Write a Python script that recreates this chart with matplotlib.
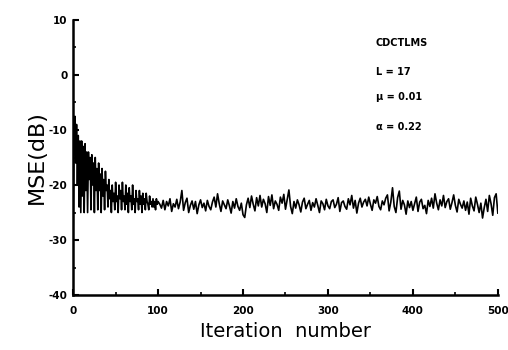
import numpy as np
import matplotlib
matplotlib.use('Agg')
import matplotlib.pyplot as plt
from matplotlib.ticker import MultipleLocator

plt.rcParams['axes.unicode_minus'] = False

# learning curve
# iterations 0..100, one value per iteration
head_mse = [
    -28.0, -12.0, -7.5, -16.0, -9.0, -20.0, -11.0, -24.0, -12.0, -25.0,
    -12.0, -22.0, -13.0, -25.0, -12.5, -21.0, -14.0, -25.0, -14.0, -19.0,
    -15.0, -24.5, -14.5, -20.0, -16.0, -25.0, -15.0, -21.0, -17.0, -24.5,
    -16.0, -21.0, -18.0, -25.0, -17.0, -22.0, -19.0, -24.5, -17.5, -21.0,
    -20.0, -24.0, -19.0, -22.5, -21.0, -25.0, -20.0, -23.0, -21.5, -24.5,
    -19.5, -23.0, -22.0, -25.0, -20.0, -22.5, -21.0, -24.5, -19.5, -23.0,
    -22.0, -24.5, -20.0, -23.5, -21.5, -25.0, -20.5, -23.0, -22.0, -24.5,
    -20.0, -23.5, -22.5, -25.0, -21.0, -23.0, -22.5, -24.5, -21.0, -23.5,
    -22.0, -25.0, -21.5, -23.5, -22.5, -24.5, -21.5, -23.0, -23.5, -24.5,
    -22.0, -23.5, -23.0, -24.0, -22.5, -24.0, -23.0, -24.5, -22.5, -23.5,
    -23.0,
]
# iterations 102..500, every second iteration
tail_mse = [
    -23.5, -24.2, -22.8, -24.5, -23.0, -23.8, -22.5, -24.8, -23.4, -24.0,
    -22.6, -24.3, -23.1, -21.0, -24.6, -23.2, -22.4, -25.0, -23.7, -22.9,
    -24.4, -23.0, -25.2, -23.6, -22.7, -24.1, -23.3, -24.7, -22.8, -23.9,
    -24.5, -23.1, -22.2, -24.0, -21.6, -23.4, -24.8, -22.9, -23.6, -24.3,
    -22.7, -23.8, -25.1, -23.0, -24.2, -22.5, -23.9, -24.6, -23.3, -25.4,
    -25.9, -23.6, -22.4, -24.1, -22.0, -23.5, -24.7, -22.3, -23.8, -21.9,
    -24.0, -22.6, -23.4, -25.0, -22.1, -23.7, -21.8, -24.3, -22.9, -23.5,
    -24.6, -22.2, -23.3, -21.7, -24.4, -22.6, -20.9, -23.9, -25.2, -23.0,
    -24.2, -22.7, -23.6, -24.9, -23.1, -22.4, -24.3, -23.5, -22.8, -24.6,
    -23.2, -24.0, -22.5, -23.7, -25.0, -22.9, -23.4, -24.5, -22.6, -23.8,
    -24.3, -23.0, -22.7, -24.1, -23.5, -22.3, -24.8, -23.2, -22.9, -23.9,
    -24.4, -22.5, -23.6, -21.9, -24.2, -22.8, -25.1, -23.3, -22.4, -24.0,
    -23.1, -22.6, -23.8, -22.2, -23.5, -24.6, -22.7, -23.3, -22.1, -23.9,
    -24.5, -22.9, -23.6, -22.4, -21.8, -24.7, -23.1, -20.5, -23.9, -25.0,
    -22.3, -21.1, -24.4, -22.8, -23.6, -25.3, -22.9, -24.1, -23.0, -24.6,
    -23.4, -22.2, -24.8, -23.1, -22.6, -24.3, -23.7, -25.2, -22.8, -23.9,
    -22.4, -24.2, -21.6, -23.3, -24.5, -22.7, -23.8, -21.9, -24.1, -23.0,
    -22.5, -24.4, -23.2, -21.8, -23.7, -24.9, -22.6, -23.5, -24.2, -22.9,
    -24.6, -23.1, -25.3, -22.4, -23.8, -24.7, -22.2, -23.5, -25.0, -23.3,
    -26.0, -24.1, -22.6, -24.8, -21.9, -23.4, -25.5, -22.3, -21.6, -25.1,
]
head_iter = list(range(0, 101))
tail_iter = list(range(102, 501, 2))

info_lines = ['CDCTLMS', 'L = 17', 'μ = 0.01', 'α = 0.22']

iters = np.array(head_iter + tail_iter)
mse = np.array(head_mse + tail_mse)

fig = plt.figure(figsize=(5.08, 3.5), dpi=100)
ax = fig.add_axes([0.144, 0.157, 0.836, 0.786])

ax.plot(iters, mse, color='black', lw=1.2)

ax.set_xlim(0, 500)
ax.set_ylim(-40, 10)
ax.xaxis.set_major_locator(MultipleLocator(100))
ax.xaxis.set_minor_locator(MultipleLocator(50))
ax.yaxis.set_major_locator(MultipleLocator(10))
ax.yaxis.set_minor_locator(MultipleLocator(5))

for side in ['top', 'right']:
    ax.spines[side].set_visible(False)
for side in ['left', 'bottom']:
    ax.spines[side].set_linewidth(1.8)

ax.tick_params(which='major', direction='in', length=4, width=1.5,
               labelsize=7.5)
ax.tick_params(axis='x', which='major', pad=8)
ax.tick_params(axis='y', which='major', pad=4)
ax.tick_params(which='minor', direction='in', length=2.5, width=1.2)
for lab in ax.get_xticklabels() + ax.get_yticklabels():
    lab.set_fontweight('bold')

ax.set_xlabel('Iteration  number', fontsize=14, labelpad=4)
ax.set_ylabel('MSE(dB)', fontsize=16, labelpad=1)

# text block in the upper right, one line per entry
y_pos = [0.877, 0.794, 0.723, 0.637]
for txt, yy in zip(info_lines, y_pos):
    fig.text(0.740, yy, txt, fontsize=7, fontweight='bold', va='center')

fig.savefig('out.png', dpi=100)
